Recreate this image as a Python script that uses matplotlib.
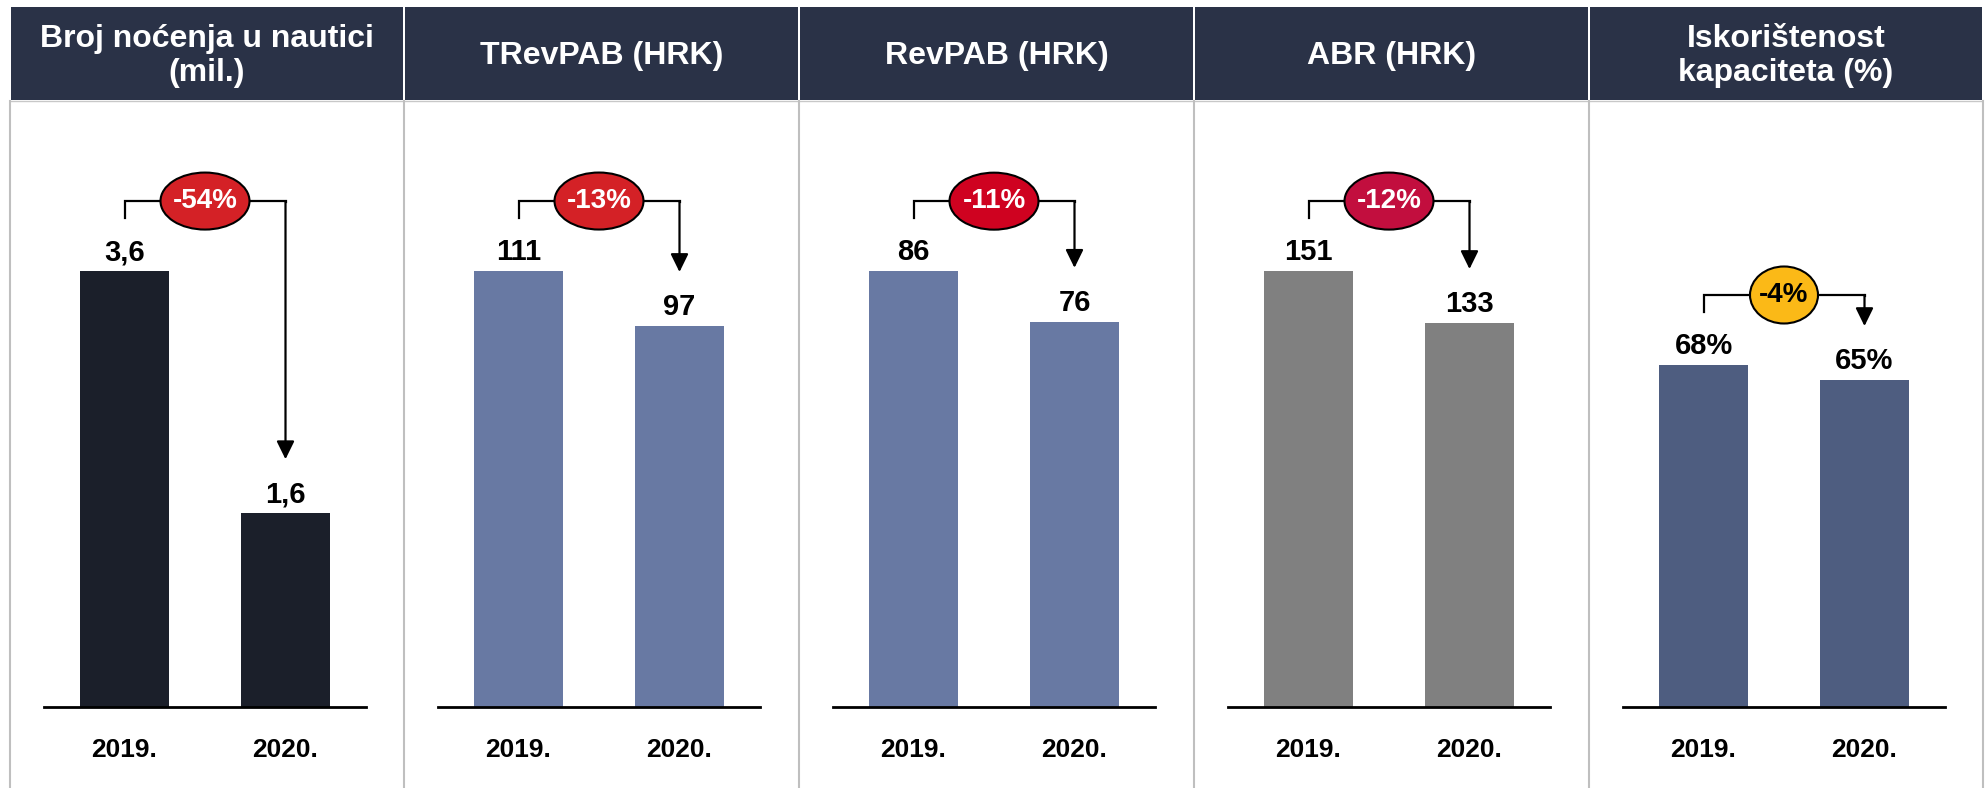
import matplotlib.pyplot as plt
from matplotlib.patches import Rectangle, Ellipse

plt.rcParams['font.family'] = ['Liberation Sans', 'DejaVu Sans']
plt.rcParams['font.weight'] = 'bold'

# data
titles = ['Broj noćenja u nautici\n(mil.)', 'TRevPAB (HRK)', 'RevPAB (HRK)',
          'ABR (HRK)', 'Iskorištenost\nkapaciteta (%)']
years = ['2019.', '2020.']
values = [[3.6, 1.6], [111, 97], [86, 76], [151, 133], [68, 65]]
value_labels = [['3,6', '1,6'], ['111', '97'], ['86', '76'], ['151', '133'], ['68%', '65%']]
changes = ['-54%', '-13%', '-11%', '-12%', '-4%']

# style
bar_colors = ['#1b1f2a', '#6879a3', '#6879a3', '#808080', '#4e5d80']
badge_colors = ['#d42126', '#d42126', '#cf0220', '#c20e3e', '#fbb917']
badge_text = ['white', 'white', 'white', 'white', 'black']
ytops = [4.93, 152, 117.8, 206.8, 118.7]
header_color = '#2a3247'

W, H = 1985, 788
fig = plt.figure(figsize=(W / 100, H / 100), dpi=100)

bg = fig.add_axes([0, 0, 1, 1])
bg.set_xlim(0, W)
bg.set_ylim(H, 0)
bg.axis('off')

panel_x = [10, 404, 799, 1194, 1589, 1983]
head_top, head_bot = 7, 100
ax_bot, ax_top = 707, 110

for i in range(5):
    x0, x1 = panel_x[i], panel_x[i + 1]
    bg.add_patch(Rectangle((x0 + 1, head_top), x1 - x0 - 2, head_bot - head_top,
                           color=header_color, lw=0))
    bg.text((x0 + x1) / 2, 56, titles[i], color='white', fontsize=23,
            ha='center', va='center', linespacing=1.2)
    bg.plot([x0 + 1, x1 - 1], [head_bot + 1, head_bot + 1], color='#c8c8c8', lw=1)
for x in panel_x:
    bg.plot([x, x], [head_bot + 1, H], color='#bfbfbf', lw=1.5)

for i in range(5):
    left = panel_x[i] + 34
    ax = fig.add_axes([left / W, (H - ax_bot) / H, 322 / W, (ax_bot - ax_top) / H])
    ax.set_xlim(-0.5, 1.5)
    ax.set_ylim(0, ytops[i])
    px = (ax_bot - ax_top) / ytops[i]  # pixels per data unit
    vals = values[i]
    ax.bar([0, 1], vals, width=0.55, color=bar_colors[i], zorder=2)
    for j, v in enumerate(vals):
        ax.text(j, v + 11 / px, value_labels[i][j], ha='center', va='baseline',
                fontsize=21, color='black')
    for s in ['top', 'left', 'right']:
        ax.spines[s].set_visible(False)
    ax.spines['bottom'].set_linewidth(2)
    ax.set_yticks([])
    ax.set_xticks([0, 1])
    ax.set_xticklabels(years, fontsize=19)
    ax.tick_params(axis='x', length=0, pad=22)
    ax.patch.set_alpha(0)

    # bracket with change badge
    yh = max(vals) + 70 / px
    y_start = vals[0] + 53 / px
    y_tip = vals[1] + 54 / px
    ax.plot([0, 0, 1, 1], [y_start, yh, yh, yh - 1 / px], color='black', lw=1.6,
            solid_joinstyle='miter', clip_on=False)
    ax.annotate('', xy=(1, y_tip), xytext=(1, yh),
                arrowprops=dict(arrowstyle='-|>,head_length=0.55,head_width=0.27',
                                mutation_scale=20, color='black', lw=1.6,
                                shrinkA=0, shrinkB=0))
    ew = (21 * len(changes[i]) + 5) / 161
    ax.add_patch(Ellipse((0.5, yh), ew, 57 / px, facecolor=badge_colors[i],
                         edgecolor='black', lw=1.5, zorder=3, clip_on=False))
    ax.text(0.5, yh, changes[i], ha='center', va='center', fontsize=20,
            color=badge_text[i], zorder=4)

fig.savefig('out.png', dpi=100)
